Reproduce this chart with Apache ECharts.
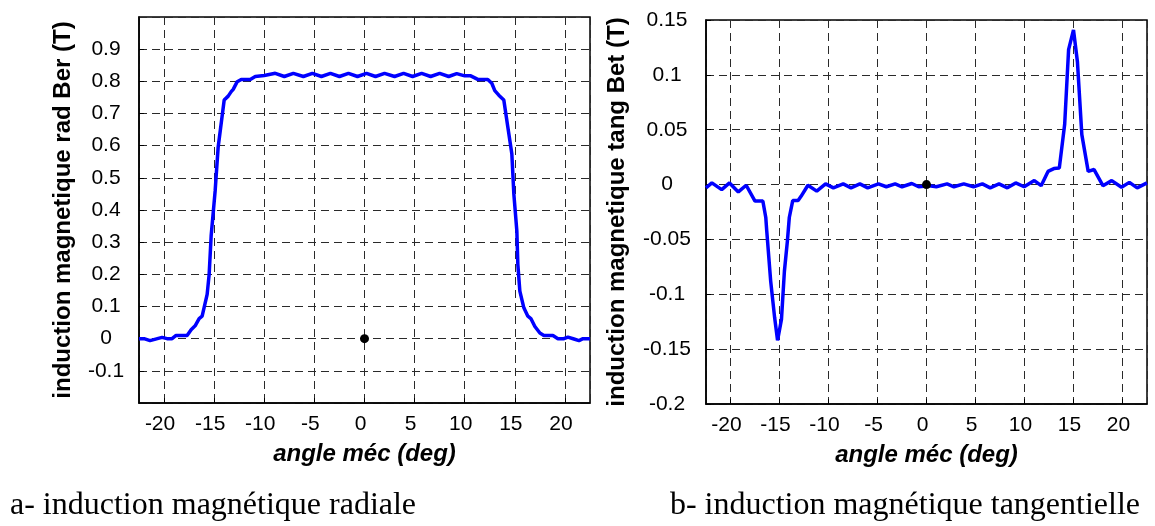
<!DOCTYPE html>
<html>
<head>
<meta charset="utf-8">
<script src="https://cdn.jsdelivr.net/npm/echarts@6/dist/echarts.min.js"></script>
<style>
  html, body { margin: 0; padding: 0; background: #fff; }
  #chart { width: 1155px; height: 526px; }
</style>
</head>
<body>
<div id="chart"></div>
<script>
// induction radiale (figure a) -----------------------------
let radAngle = [-22.5, -22.0, -21.4, -20.2, -19.7, -19.2, -18.8, -17.7, -17.3, -16.9,
  -16.5, -16.2, -15.7, -15.5, -15.3, -14.9, -14.6, -14.0, -13.6, -13.3,
  -13.1, -12.7, -12.3, -11.4, -10.9, -10.0, -8.9, -8.0, -7.1, -6.1,
  -5.2, -4.3, -3.4, -2.5, -1.6, -0.7, 0.2, 1.1, 2.0, 3.0,
  3.9, 4.8, 5.7, 6.6, 7.5, 8.4, 9.2, 10.0, 10.6, 11.3,
  12.3, 12.7, 13.0, 13.4, 13.9, 14.3, 14.7, 14.9, 15.2, 15.3,
  15.5, 15.9, 16.3, 16.6, 17.0, 17.5, 17.9, 18.8, 19.3, 19.9,
  20.3, 20.9, 21.4, 21.8, 22.5];
let radB = [0, 0, -0.006, 0.004, 0, 0, 0.01, 0.01, 0.028, 0.04,
  0.0625, 0.07, 0.1375, 0.2, 0.32, 0.46, 0.596, 0.742, 0.754, 0.768,
  0.775, 0.799, 0.806, 0.806, 0.815, 0.818, 0.825, 0.815, 0.825, 0.815,
  0.825, 0.815, 0.825, 0.815, 0.825, 0.815, 0.825, 0.815, 0.825, 0.815,
  0.825, 0.815, 0.825, 0.815, 0.825, 0.815, 0.824, 0.817, 0.817, 0.806,
  0.806, 0.794, 0.771, 0.757, 0.742, 0.658, 0.575, 0.45, 0.335, 0.231,
  0.148, 0.096, 0.07, 0.0625, 0.038, 0.0175, 0.01, 0.01, 0, 0,
  0.005, -0.001, -0.006, 0, 0];

// induction tangentielle (figure b) ------------------------
let tanAngle = [-22.5, -21.9, -20.9, -20.1, -19.2, -18.4, -17.5, -16.7, -16.4, -16.3,
  -15.9, -15.5, -15.2, -14.8, -14.5, -14.2, -14.0, -13.65, -13.1, -12.8,
  -12.1, -11.2, -10.3, -9.5, -8.5, -7.7, -6.8, -6.0, -4.9, -4.1,
  -3.2, -2.5, -1.5, -0.8, 0.3, 1.0, 2.1, 2.8, 3.8, 4.8,
  5.7, 6.5, 7.4, 8.25, 9.1, 9.96, 11.0, 11.7, 12.4, 13.0,
  13.55, 14.1, 14.5, 15.0, 15.4, 15.85, 16.5, 17.1, 18.0, 18.9,
  19.9, 20.7, 21.5, 22.5];
let tanB = [-0.003, 0.0015, -0.0046, 0.0015, -0.0067, -0.0006, -0.015, -0.015, -0.03, -0.0425,
  -0.088, -0.121, -0.142, -0.123, -0.079, -0.052, -0.03, -0.0146, -0.0146, -0.0107,
  -0.0006, -0.006, 0.0006, -0.003, 0.0006, -0.003, 0.0006, -0.003, 0.0006, -0.002,
  0.0006, -0.002, 0.001, -0.002, -0.001, -0.002, 0.0006, -0.002, 0.0006, -0.002,
  0.0006, -0.003, 0.0006, -0.003, 0.0015, -0.002, 0.0036, -0.001, 0.012, 0.0146,
  0.015, 0.055, 0.123, 0.141, 0.112, 0.0455, 0.012, 0.0137, -0.001, 0.0036,
  -0.0025, 0.002, -0.003, 0.0015];

// point noir a l'origine
let dotPoint = [0, 0];

let xTitle = 'angle méc (deg)';
let yTitleRad = 'induction magnetique rad Ber (T)';
let yTitleTan = 'induction magnetique tang Bet (T)';
let captionA = 'a- induction magnétique radiale';
let captionB = 'b- induction magnétique tangentielle';

let zip = function (xs, ys) {
  return xs.map((x, i) => [x, ys[i]]);
};

let sans = 'Liberation Sans, Arial, sans-serif';
let dashGrid = { type: [8, 5], color: '#2a2a2a', width: 1 };

let xAxisOf = function (gridIndex) {
  return {
    type: 'value',
    gridIndex: gridIndex,
    min: -22.5,
    max: 22.5,
    minInterval: 5,
    maxInterval: 5,
    splitNumber: 9,
    name: xTitle,
    nameLocation: 'middle',
    nameGap: 39,
    nameTextStyle: { fontFamily: sans, fontSize: 24, fontWeight: 'bold', fontStyle: 'italic', color: '#000' },
    axisLine: { show: true, onZero: false, lineStyle: { color: '#000', width: 1.5 } },
    axisTick: { show: true, inside: true, length: 5, lineStyle: { color: '#000' } },
    axisLabel: {
      showMinLabel: false, showMaxLabel: false,
      fontFamily: sans, fontSize: 21, color: '#000', margin: 11,
      padding: [0, 8, 0, 0]
    },
    splitLine: { show: true, lineStyle: dashGrid }
  };
};

let chart = echarts.init(document.getElementById('chart'));
let option = {
  animation: false,
  backgroundColor: '#fff',
  grid: [
    { left: 139, top: 17, width: 451, height: 386, show: true, borderColor: '#000', borderWidth: 1.5, containLabel: false },
    { left: 706, top: 20, width: 441, height: 384, show: true, borderColor: '#000', borderWidth: 1.5, containLabel: false }
  ],
  xAxis: [xAxisOf(0), xAxisOf(1)],
  yAxis: [
    {
      type: 'value', gridIndex: 0,
      min: -0.2, max: 1.0, interval: 0.1,
      name: yTitleRad, nameLocation: 'middle', nameRotate: 90, nameGap: 64,
      nameTextStyle: { fontFamily: sans, fontSize: 24, fontWeight: 'bold', color: '#000' },
      axisLine: { show: true, onZero: false, lineStyle: { color: '#000', width: 1.5 } },
      axisTick: { show: true, inside: true, length: 5, lineStyle: { color: '#000' } },
      axisLabel: {
        showMinLabel: false, showMaxLabel: false,
        fontFamily: sans, fontSize: 21, color: '#000', margin: 33, align: 'center'
      },
      splitLine: { show: true, lineStyle: dashGrid }
    },
    {
      type: 'value', gridIndex: 1,
      min: -0.2, max: 0.15, interval: 0.05,
      name: yTitleTan, nameLocation: 'middle', nameRotate: 90, nameGap: 77,
      nameTextStyle: { fontFamily: sans, fontSize: 24, fontWeight: 'bold', color: '#000' },
      axisLine: { show: true, onZero: false, lineStyle: { color: '#000', width: 1.5 } },
      axisTick: { show: true, inside: true, length: 5, lineStyle: { color: '#000' } },
      axisLabel: {
        fontFamily: sans, fontSize: 21, color: '#000', margin: 39, align: 'center'
      },
      splitLine: { show: true, lineStyle: dashGrid }
    }
  ],
  series: [
    {
      type: 'line', xAxisIndex: 0, yAxisIndex: 0,
      data: zip(radAngle, radB),
      showSymbol: false,
      lineStyle: { color: '#0000ff', width: 3.5 },
      z: 3
    },
    {
      type: 'scatter', xAxisIndex: 0, yAxisIndex: 0,
      data: [dotPoint], symbolSize: 9,
      itemStyle: { color: '#000', opacity: 1 }, z: 4
    },
    {
      type: 'line', xAxisIndex: 1, yAxisIndex: 1,
      data: zip(tanAngle, tanB),
      showSymbol: false,
      lineStyle: { color: '#0000ff', width: 3.5 },
      z: 3
    },
    {
      type: 'scatter', xAxisIndex: 1, yAxisIndex: 1,
      data: [dotPoint], symbolSize: 9,
      itemStyle: { color: '#000', opacity: 1 }, z: 4
    }
  ],
  graphic: [
    {
      type: 'text', left: 10, top: 490,
      style: { text: captionA, font: '32px "Liberation Serif", "Times New Roman", serif', fill: '#000' }
    },
    {
      type: 'text', right: 15, top: 490,
      style: { text: captionB, font: '32px "Liberation Serif", "Times New Roman", serif', fill: '#000' }
    }
  ]
};
chart.setOption(option);
</script>
</body>
</html>
